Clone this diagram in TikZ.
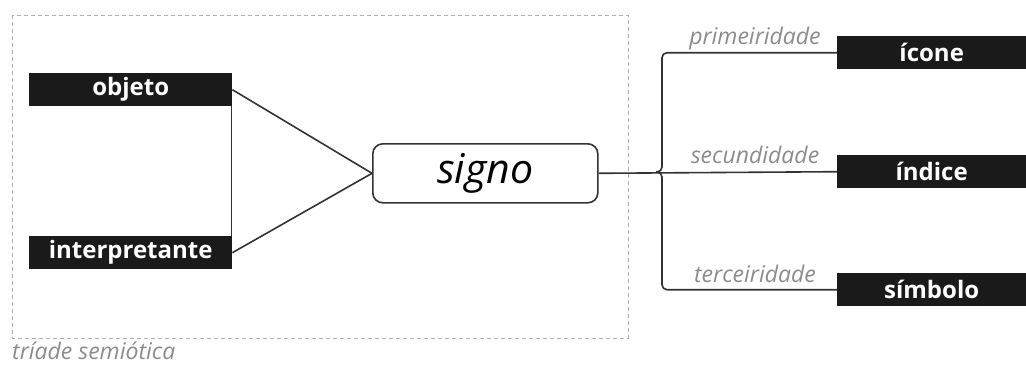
\documentclass[tikz,border=0pt]{standalone}
\usepackage{fontspec}
\setmainfont{Open Sans}
\definecolor{boxblack}{HTML}{1A1A1A}
\definecolor{linegray}{HTML}{333333}
\definecolor{labgray}{HTML}{8C8C8C}
\definecolor{dashgray}{HTML}{B0B0B0}
\begin{document}
\begin{tikzpicture}[x=1pt,y=-1pt,
  blk/.style={fill=boxblack, text=white, font=\bfseries\fontsize{24}{26}\selectfont, minimum height=33pt, inner sep=0pt, anchor=north west},
  lab/.style={text=labgray, font=\itshape\fontsize{23}{26}\selectfont, anchor=base},
  conn/.style={draw=linegray, line width=1.6pt}]
\useasboundingbox (0,0) rectangle (1026,365);
\draw[dashgray, line width=0.8pt, dash pattern=on 4pt off 3pt] (12,15) rectangle (628,338);
\node[text=labgray, font=\itshape\fontsize{23}{26}\selectfont, anchor=base west, inner sep=0pt] (tri) at (12,359) {tríade semiótica};
\node[blk, minimum width=203pt] (obj) at (29,73) {objeto};
\node[blk, minimum width=203pt] (int) at (29,236) {interpretante};
\node[draw=linegray, line width=1.6pt, rounded corners=10pt, minimum width=225pt, minimum height=59pt, font=\itshape\fontsize{41}{44}\selectfont, inner sep=0pt, anchor=north west] (signo) at (372,143) {signo};
\node[blk, minimum width=189pt] (ico) at (837,36) {ícone};
\node[blk, minimum width=189pt] (ind) at (837,155) {índice};
\node[blk, minimum width=189pt] (sim) at (837,273) {símbolo};
\draw[conn] ([xshift=-0.8pt]obj.south east) -- ([xshift=-0.8pt]int.north east);
\draw[conn] (obj.east) -- (signo.west);
\draw[conn] (int.east) -- (signo.west);
\draw[conn] (signo.east) -- (ind.west);
\coordinate (bx) at (662,172);
\coordinate (bt) at (656,172);
\draw[conn, rounded corners=5pt] (ico.west) -| (bx) -- (bt);
\draw[conn, rounded corners=5pt] (sim.west) -| (bx) -- (bt);
\node[lab] (l1) at (755,44) {primeiridade};
\node[lab] (l2) at (755,163) {secundidade};
\node[lab] (l3) at (755,282) {terceiridade};
\end{tikzpicture}
\end{document}
